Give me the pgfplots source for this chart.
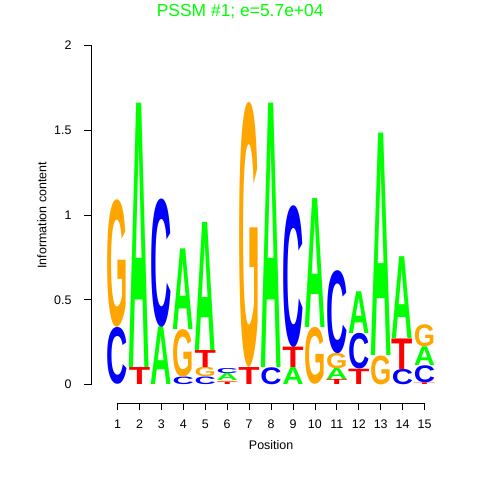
\documentclass[border=0pt]{standalone}
\usepackage{pgfplots}
\pgfplotsset{compat=1.18}
\usepackage{pgfplotstable}
\usepackage{graphicx}
\usepackage{fontspec}
\setmainfont{Liberation Sans}
\newfontfamily\logofont{Liberation Sans}

\definecolor{logoA}{RGB}{0,255,0}
\definecolor{logoC}{RGB}{0,0,255}
\definecolor{logoG}{RGB}{255,165,0}
\definecolor{logoT}{RGB}{255,0,0}

% x = position, y = bottom of the letter, h = its height (bits)
\pgfplotstableread{
x y h
2 0.1 1.557
3 0 0.34
4 0.325 0.475
5 0.2 0.755
6 0.023 0.042
8 0.1 1.557
9 0 0.1
10 0.335 0.76
11 0.03 0.065
12 0.3 0.246
13 0.17 1.31
14 0.27 0.482
15 0.11 0.11
}\tblA
\pgfplotstableread{
x y h
1 0 0.335
3 0.34 0.756
4 0 0.045
5 0 0.045
6 0.065 0.03
8 0 0.1
9 0.22 0.835
11 0.185 0.489
12 0.09 0.21
14 0 0.09
15 0.01 0.1
}\tblC
\pgfplotstableread{
x y h
1 0.335 0.751
4 0.045 0.28
5 0.045 0.055
6 0.015 0.008
7 0.1 1.557
10 0 0.335
11 0.095 0.09
13 0 0.17
15 0.22 0.13
}\tblG
\pgfplotstableread{
x y h
2 0 0.1
5 0.1 0.1
6 0 0.015
7 0 0.1
9 0.1 0.12
11 0 0.03
12 0 0.09
14 0.09 0.18
15 0 0.01
}\tblT

% one letter per point, stretched to its height (169.65bp per bit)
\pgfplotsset{
  logo/.style 2 args={
    only marks, mark=*, mark size=0.1pt, scatter,
    visualization depends on={\thisrow{h}\as\letterh},
    scatter/@pre marker code/.code={%
      \pgfmathsetlengthmacro\lhdim{\letterh*169.65bp}%
      \node[inner sep=0pt, outer sep=0pt, anchor=south, text=#1]
        {\resizebox*{21.3bp}{\lhdim}{\logofont\bfseries #2}};
      \pgfscope\pgfsetfillopacity{0}\pgfsetstrokeopacity{0}},
    scatter/@post marker code/.code={\endpgfscope},
  },
}

\begin{document}
\begin{tikzpicture}
\path[use as bounding box] (-91bp,-77bp) rectangle (389bp,403bp);
\begin{axis}[
  at={(0,0)}, anchor=south west,
  x=21.93bp, y=169.65bp,
  xmin=-0.21, xmax=15.8,
  ymin=-0.1085, ymax=2,
  clip=false,
  axis x line*=bottom, axis y line*=left,
  axis line style={draw=none},
  tick align=outside,
  major tick length=7bp,
  tick style={black, line width=0.8bp},
  xtick={1,...,15}, ytick={0,0.5,1,1.5,2},
  /pgf/number format/assume math mode=true,
  tick label style={font=\fontsize{12.5}{14}\selectfont},
  xticklabel style={yshift=-6bp},
  yticklabel style={xshift=-9bp},
  title={PSSM \#1; e=5.7e+04},
  title style={at={(axis description cs:0.425,1.064)}, anchor=base,
    font=\fontsize{17.5}{20}\selectfont, text=logoA},
  xlabel={Position},
  xlabel style={at={(axis description cs:0.513,-0.1293)}, anchor=base,
    font=\fontsize{12.5}{14}\selectfont},
  ylabel={Information content},
  ylabel style={at={(axis description cs:-0.1268,0.525)}, anchor=base,
    font=\fontsize{12.5}{14}\selectfont},
]
\draw[black, line width=0.8bp] (axis cs:1,-0.1085) -- (axis cs:15,-0.1085);
\draw[black, line width=0.8bp] (axis cs:-0.21,0) -- (axis cs:-0.21,2);
\addplot[logo={logoA}{A}] table {\tblA};
\addplot[logo={logoC}{C}] table {\tblC};
\addplot[logo={logoG}{G}] table {\tblG};
\addplot[logo={logoT}{T}] table {\tblT};
\end{axis}
\end{tikzpicture}
\end{document}
